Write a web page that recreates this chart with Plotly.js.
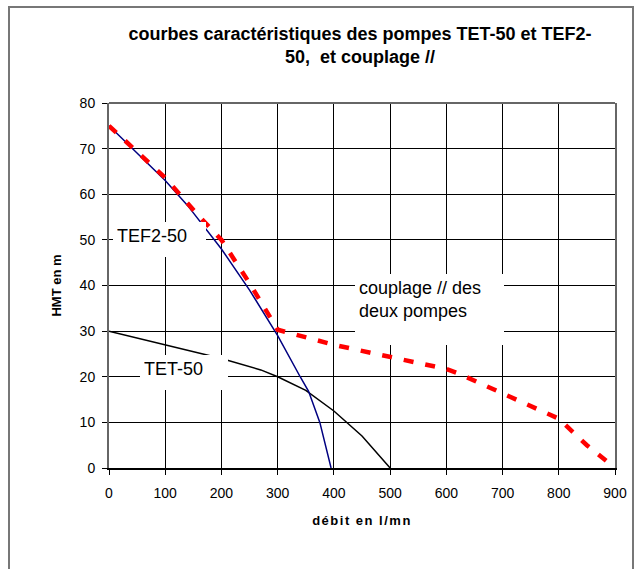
<!DOCTYPE html>
<html>
<head>
<meta charset="utf-8">
<script src="https://cdn.plot.ly/plotly-3.0.1.min.js"></script>
<style>
  html, body { margin: 0; padding: 0; background: #fff; }
  #chart { position: absolute; left: 0; top: 0; width: 640px; height: 569px; }
  #frame { position: absolute; left: 8px; top: 6px; width: 622px; height: 580px;
           border-left: 2px solid #777; border-top: 2px solid #777; border-right: 2px solid #777;
           pointer-events: none; }
  .xtitle { letter-spacing: 1.5px; }
</style>
</head>
<body>
<div id="chart"></div>
<div id="frame"></div>
<script>
// Pump TEF2-50 curve
const tefX = [0, 100, 140, 200, 250, 300, 340, 355, 375, 395];
const tefY = [75, 63, 57.5, 48, 39, 29, 20, 16.8, 10, 0];
// Pump TET-50 curve
const tetX = [0, 100, 200, 270, 300, 350, 400, 450, 500];
const tetY = [30, 27, 24, 21.5, 20, 17, 12.5, 7, 0];
// Parallel coupling curve
const coupX = [0, 100, 160, 200, 250, 280, 300, 400, 500, 600, 620, 700, 800, 850, 900];
const coupY = [75, 63.6, 55.2, 50, 40.5, 34.5, 30.3, 27, 24.4, 21.7, 20.8, 16.3, 10.8, 5, 0];

const xTicks = [0, 100, 200, 300, 400, 500, 600, 700, 800, 900];
const yTicks = [0, 10, 20, 30, 40, 50, 60, 70, 80];

const font = "Arial, 'Liberation Sans', sans-serif";

const traces = [
  { x: tetX, y: tetY, type: 'scatter', mode: 'lines', name: 'TET-50',
    line: { color: '#000000', width: 1.5 } },
  { x: tefX, y: tefY, type: 'scatter', mode: 'lines', name: 'TEF2-50',
    line: { color: '#000080', width: 1.5 } },
  { x: coupX, y: coupY, type: 'scatter', mode: 'lines', name: 'couplage',
    line: { color: '#FF0000', width: 4.5, dash: '10px,12px' } }
];

const layout = {
  width: 640, height: 569,
  margin: { l: 109.3, r: 25.1, t: 102.7, b: 100.7 },
  paper_bgcolor: '#ffffff', plot_bgcolor: '#ffffff',
  showlegend: false,
  font: { family: font, color: '#000', size: 14 },
  title: {
    text: '<b>courbes caractéristiques des pompes TET-50 et TEF2-<br>50,  et couplage //</b>',
    font: { family: font, size: 18, color: '#000' },
    x: 0.5625, xref: 'container', xanchor: 'center',
    y: 0.930, yref: 'container', yanchor: 'top'
  },
  xaxis: {
    range: [0, 900], tickvals: xTicks, ticktext: xTicks.map(String),
    showgrid: true, gridcolor: '#000', gridwidth: 1,
    showline: true, linecolor: '#000', linewidth: 2, mirror: false,
    ticks: 'outside', ticklen: 5, tickcolor: '#000', tickwidth: 1,
    zeroline: false, ticklabelstandoff: 6,
    tickfont: { family: font, size: 14, color: '#000' },
    title: { text: '<b>débit en l/mn</b>', font: { family: font, size: 13, color: '#000' }, standoff: 16 },
    fixedrange: true
  },
  yaxis: {
    range: [0, 80], tickvals: yTicks, ticktext: yTicks.map(String),
    showgrid: true, gridcolor: '#000', gridwidth: 1,
    showline: true, linecolor: '#666', linewidth: 2, mirror: true,
    ticks: 'outside', ticklen: 5, tickcolor: '#000', tickwidth: 1,
    zeroline: false, ticklabelstandoff: 4,
    tickfont: { family: font, size: 14, color: '#000' },
    title: { text: '<b>HMT en m</b>', font: { family: font, size: 13, color: '#000' }, standoff: 15 },
    fixedrange: true
  },
  shapes: [
    { type: 'line', xref: 'paper', yref: 'paper', x0: 0, x1: 1, y0: 1, y1: 1,
      line: { color: '#666', width: 2 }, layer: 'above' }
  ],
  annotations: [
    { text: 'TEF2-50', x: 6.6, y: 53.9, xref: 'x', yref: 'y', xanchor: 'left', yanchor: 'top',
      showarrow: false, bgcolor: '#fff', borderpad: 4, borderwidth: 0,
      width: 85, height: 27, align: 'left', valign: 'top',
      font: { family: font, size: 18, color: '#000' } },
    { text: 'TET-50', x: 54.7, y: 24.8, xref: 'x', yref: 'y', xanchor: 'left', yanchor: 'top',
      showarrow: false, bgcolor: '#fff', borderpad: 4, borderwidth: 0,
      width: 80, height: 27, align: 'left', valign: 'top',
      font: { family: font, size: 18, color: '#000' } },
    { text: 'couplage // des<br>deux pompes', x: 437.4, y: 42.5, xref: 'x', yref: 'y', xanchor: 'left', yanchor: 'top',
      showarrow: false, bgcolor: '#fff', borderpad: 4, borderwidth: 0,
      width: 141, height: 63, align: 'left', valign: 'top',
      font: { family: font, size: 18, color: '#000' } }
  ]
};

Plotly.newPlot('chart', traces, layout, { displayModeBar: false, staticPlot: true });
</script>
</body>
</html>
